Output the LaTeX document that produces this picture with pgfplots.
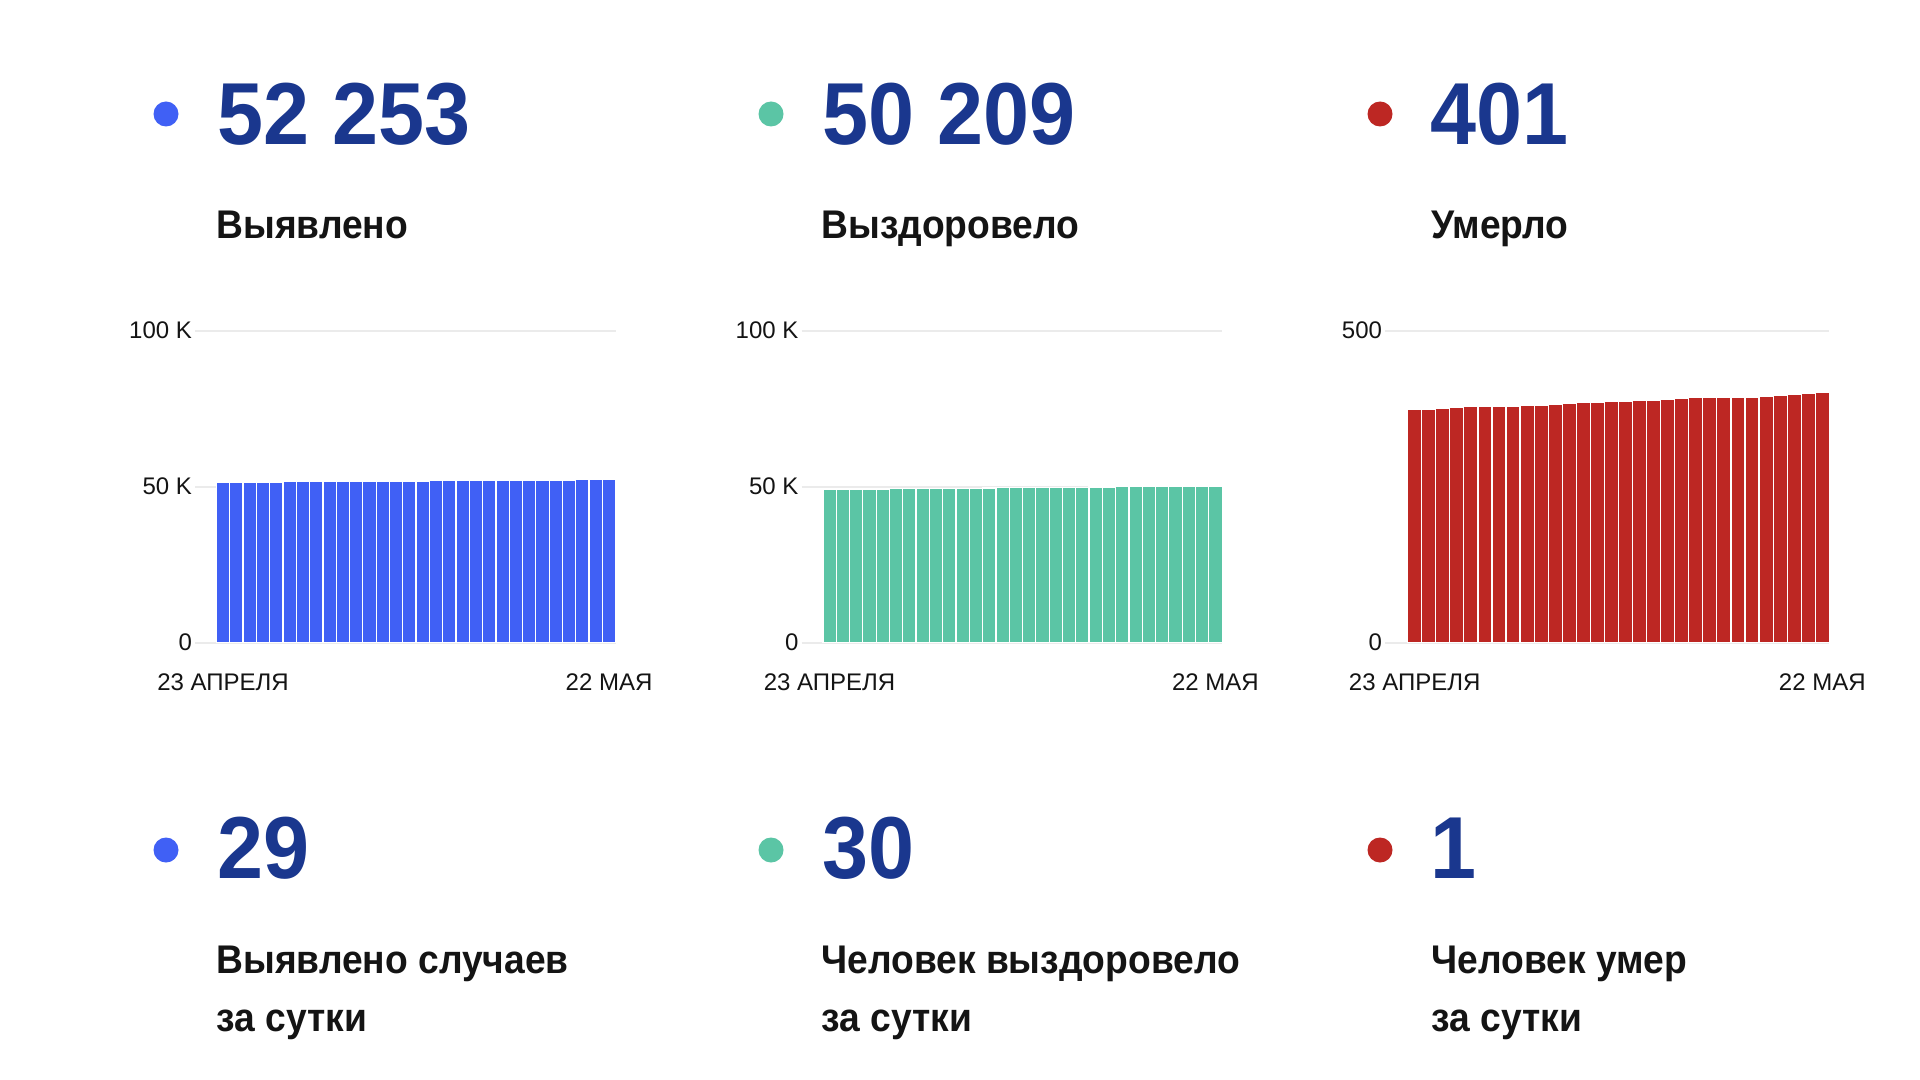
\documentclass[border=0pt]{standalone}
\usepackage{fontspec}
\setmainfont{Liberation Sans}
\usepackage{graphicx}
\usepackage{pgfplots}
\pgfplotsset{compat=1.18}
\definecolor{cblue}{HTML}{4060F5}
\definecolor{cgreen}{HTML}{5BC5A5}
\definecolor{cred}{HTML}{BD2723}
\definecolor{cnum}{HTML}{1A378E}
\definecolor{ctxt}{HTML}{141414}
\definecolor{cgrid}{HTML}{EBEBEB}

\pgfplotstableread{
x y
0 51411
1 51443
2 51471
3 51501
4 51528
5 51559
6 51588
7 51614
8 51647
9 51675
10 51705
11 51734
12 51761
13 51792
14 51820
15 51850
16 51879
17 51905
18 51937
19 51966
20 51994
21 52024
22 52051
23 52082
24 52110
25 52139
26 52169
27 52196
28 52224
29 52253
}\bluedata

\pgfplotstableread{
x y
0 49146
1 49184
2 49219
3 49259
4 49295
5 49332
6 49371
7 49405
8 49443
9 49479
10 49516
11 49551
12 49591
13 49629
14 49665
15 49702
16 49741
17 49776
18 49812
19 49850
20 49887
21 49923
22 49962
23 49997
24 50034
25 50072
26 50108
27 50142
28 50179
29 50209
}\greendata

\pgfplotstableread{
x y
0 374
1 374
2 375
3 377
4 378
5 379
6 379
7 379
8 380
9 381
10 382
11 383
12 385
13 385
14 386
15 386
16 388
17 389
18 390
19 391
20 393
21 393
22 393
23 393
24 393
25 395
26 397
27 398
28 400
29 401
}\reddata

\pgfplotsset{mini/.style={
  scale only axis, anchor=south west, height=156pt,
  ymin=0, xmin=-2.11, xmax=29.5,
  axis line style={draw=none},
  tick style={draw=none},
  ymajorgrids, major grid style={draw=cgrid, line width=1pt},
  xtick={0,29}, xticklabels={23 АПРЕЛЯ,22 МАЯ},
  ticklabel style={font=\fontsize{12pt}{14pt}\selectfont, text=ctxt},
  xticklabel style={yshift=-7.8pt},
  yticklabel style={xshift=2pt},
  scaled y ticks=false,
  ybar, bar width=1,
  clip=false,
}}

\newcommand{\numfont}{\fontsize{44pt}{50pt}\selectfont\bfseries\color{cnum}}
\newcommand{\labfont}{\fontsize{20pt}{24pt}\selectfont\bfseries\color{ctxt}}
\newcommand{\bignum}[1]{\scalebox{0.94}[1]{\numfont #1}}
\newcommand{\lab}[1]{\scalebox{0.93}[1]{\labfont #1}}

\begin{document}
\begin{tikzpicture}
\useasboundingbox (0,0) rectangle (960pt,-540pt);
\fill[white] (0,0) rectangle (960pt,-540pt);

% Blue chart
\begin{axis}[mini, at={(97.5pt,-321.35pt)}, width=210.35pt,
  ymax=100000,
  ytick={0,50000,100000}, yticklabels={0,50 K,100 K}]
\addplot[fill=cblue, draw=white, line width=0.6pt] table[x=x,y=y]{\bluedata};
\end{axis}

% Green chart
\begin{axis}[mini, at={(400.75pt,-321.35pt)}, width=210.3pt,
  ymax=100000,
  ytick={0,50000,100000}, yticklabels={0,50 K,100 K}]
\addplot[fill=cgreen, draw=white, line width=0.6pt] table[x=x,y=y]{\greendata};
\end{axis}

% Red chart
\begin{axis}[mini, at={(692.5pt,-321.35pt)}, width=222.15pt,
  ymax=500,
  ytick={0,500}, yticklabels={0,500}]
\addplot[fill=cred, draw=white, line width=0.6pt] table[x=x,y=y]{\reddata};
\end{axis}

\begin{scope}[x=0.5pt, y=-0.5pt]
% top row
\fill[cblue] (166,114) circle[radius=12.5];
\fill[cgreen] (771,114) circle[radius=12.5];
\fill[cred] (1380,114) circle[radius=12.5];
\node[anchor=base west, inner sep=0] at (217,145) {\bignum{52 253}};
\node[anchor=base west, inner sep=0] at (822,145) {\bignum{50 209}};
\node[anchor=base west, inner sep=0] at (1430,145) {\bignum{401}};
\node[anchor=base west, inner sep=0] at (216,239) {\lab{Выявлено}};
\node[anchor=base west, inner sep=0] at (821,239) {\lab{Выздоровело}};
\node[anchor=base west, inner sep=0] at (1431,239) {\lab{Умерло}};
% bottom row
\fill[cblue] (166,850) circle[radius=12.5];
\fill[cgreen] (771,850) circle[radius=12.5];
\fill[cred] (1380,850) circle[radius=12.5];
\node[anchor=base west, inner sep=0] at (217,878) {\bignum{29}};
\node[anchor=base west, inner sep=0] at (822,878) {\bignum{30}};
\node[anchor=base west, inner sep=0] at (1430,878) {\bignum{1}};
\node[anchor=base west, inner sep=0] at (216,973) {\lab{Выявлено случаев}};
\node[anchor=base west, inner sep=0] at (216,1031) {\lab{за сутки}};
\node[anchor=base west, inner sep=0] at (821,973) {\lab{Человек выздоровело}};
\node[anchor=base west, inner sep=0] at (821,1031) {\lab{за сутки}};
\node[anchor=base west, inner sep=0] at (1431,973) {\lab{Человек умер}};
\node[anchor=base west, inner sep=0] at (1431,1031) {\lab{за сутки}};
\end{scope}
\end{tikzpicture}
\end{document}
